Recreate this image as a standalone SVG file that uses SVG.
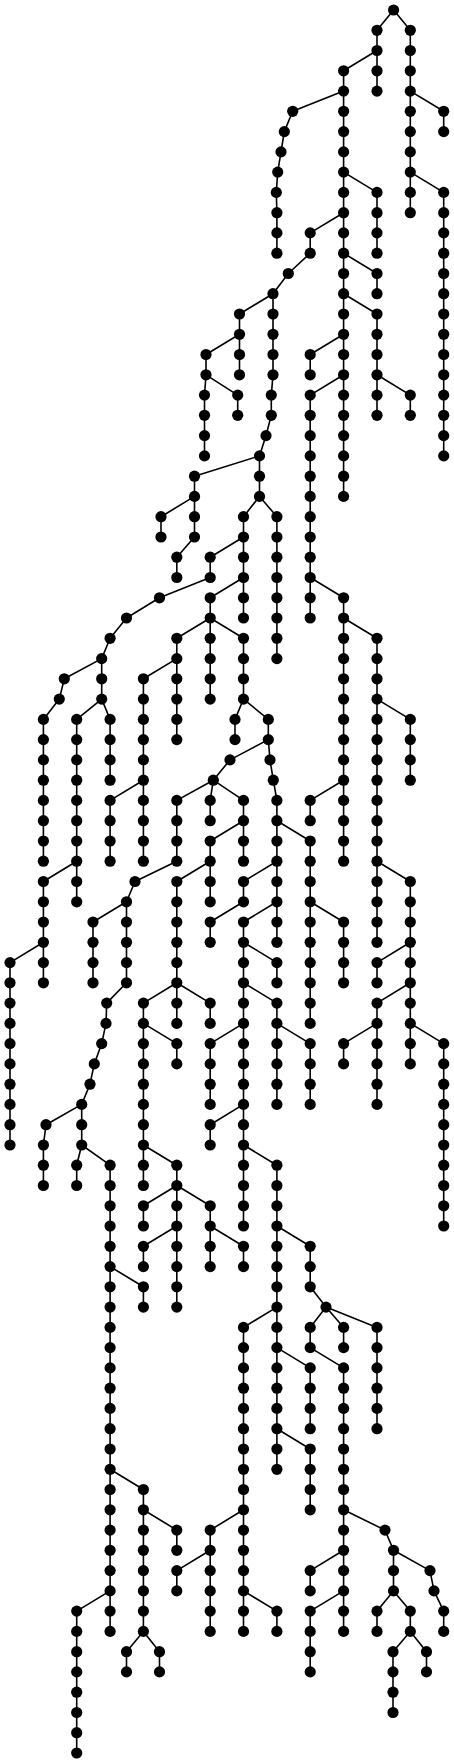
<svg xmlns="http://www.w3.org/2000/svg" width="454" height="1763" viewBox="0 0 454 1763">
<style>
.bg{fill:#fff}
.e{fill:none;stroke:#000;stroke-width:1.6}
circle{r:5.6px;fill:#000}
</style>
<rect class="bg" x="0" y="0" width="454" height="1763"/>
<g id="connectors" class="e"><path d="
M377 30.3V91.1M410.3 30.3V212.7M343.6 70.8V496.4M443.7 111.3V131.6M443.7 192.4V455.9M276.9 212.7V253.2M377 192.4V253.2M377 273.5V293.7M377 314V415.3M310.2 232.9V253.2M310.2 354.5V374.8M310.2 395.1V618M273 293.7V374.8M271.3 395.1V415.3M259.5 455.9V496.4M239.5 314V374.8M206 354.5V374.8M204.5 395.1V455.9M237.7 395.1V415.3M410.3 395.1V415.3M194.5 476.2V537M161 516.7V537M243.5 516.7V618M276.9 516.7V658.6M176.8 557.2V577.5M210.2 557.2V577.5M343.6 597.8V861.2M101.7 658.6V699.1M43.4 719.4V861.2M210.2 597.8V699.1M176.8 638.3V739.6M243.5 638.3V699.1M377 638.3V942.3M143.4 678.8V861.2M76.7 719.4V901.8M110.1 719.4V780.2M235 719.4V739.6M268.3 719.4V739.6M410.3 719.4V780.2M110.1 800.4V861.2M176.8 800.4V861.2M210.2 800.4V820.7M243.5 800.4V861.2M276.9 800.4V942.3M310.2 800.4V820.7M210.2 841V901.8M310.2 841V1023.4M43.4 881.5V982.8M126.5 901.8V982.8M93 922V982.8M176.8 881.5V1023.4M243.5 881.5V901.8M210.2 922V942.3M243.5 922V1226M410.3 881.5V1063.9M343.6 922V982.8M10 962.6V1145M276.9 962.6V982.8M377 962.6V982.8M377 1003.1V1104.4M276.9 1003.1V1104.4M210.2 1003.1V1023.4M143.4 1003.1V1185.5M176.8 1043.6V1063.9M210.2 1043.6V1104.4M310.2 1043.6V1104.4M343.6 1043.6V1063.9M443.7 1043.6V1226M81.7 1104.4V1145M43.4 1145V1185.5M210.2 1124.7V1145M76.7 1165.2V1185.5M110.1 1165.2V1631.4M176.8 1165.2V1307.1M276.9 1165.2V1469.3M143.4 1205.8V1226M210.2 1205.8V1266.6M143.4 1246.3V1266.6M243.5 1246.3V1266.6M310.2 1246.3V1286.8M143.4 1286.8V1307.1M243.5 1327.4V1631.4M310.2 1327.4V1347.6M343.6 1327.4V1347.6M377 1327.4V1428.7M310.2 1367.9V1428.7M343.6 1367.9V1631.4M310.2 1449V1509.8M143.4 1489.5V1631.4M176.8 1530.1V1550.3M210.2 1530.1V1631.4M393.5 1550.3V1590.9M176.8 1570.6V1590.9M310.2 1570.6V1590.9M443.7 1611.1V1631.4M76.7 1611.1V1753M276.9 1611.1V1631.4M310.2 1611.1V1671.9M377 1611.1V1631.4M410.3 1611.1V1631.4M126.5 1651.7V1671.9M159.5 1651.7V1671.9M393 1651.7V1712.5M426.5 1651.7V1671.9
M393.6 10L377 30.3M393.6 10L410.3 30.3M377 50.5L343.6 70.8M343.6 91.1L292.7 111.3M410.3 91.1L443.7 111.3M292.7 111.3L284.3 131.6M284.3 131.6L281 151.9M281 151.9L277.7 172.1M277.7 172.1L276.3 192.4M343.6 172.1L377 192.4M410.3 172.1L443.7 192.4M276.3 192.4L276.9 212.7M343.6 212.7L310.2 232.9M310.2 253.2L288.3 273.5M343.6 253.2L377 273.5M288.3 273.5L273 293.7M273 293.7L239.5 314M343.6 293.7L377 314M239.5 334.3L206 354.5M343.6 334.3L310.2 354.5M206 374.8L204.5 395.1M206 374.8L237.7 395.1M273 374.8L271.3 395.1M343.6 374.8L310.2 395.1M377 374.8L410.3 395.1M271.3 415.3L266 435.6M266 435.6L259.5 455.9M259.5 455.9L194.5 476.2M194.5 496.4L161 516.7M259.5 496.4L243.5 516.7M259.5 496.4L276.9 516.7M194.5 537L176.8 557.2M243.5 537L210.2 557.2M210.2 577.5L159.5 597.8M243.5 577.5L210.2 597.8M310.2 577.5L343.6 597.8M159.5 597.8L126.5 618M126.5 618L110.1 638.3M210.2 618L176.8 638.3M210.2 618L243.5 638.3M343.6 618L377 638.3M110.1 638.3L101.7 658.6M101.7 658.6L64.3 678.8M176.8 658.6L143.4 678.8M64.3 678.8L59.3 699.1M59.3 699.1L43.4 719.4M101.7 699.1L76.7 719.4M101.7 699.1L110.1 719.4M243.5 699.1L235 719.4M243.5 699.1L268.3 719.4M377 699.1L410.3 719.4M268.3 739.6L230 759.9M268.3 739.6L270 759.9M230 759.9L213.3 780.2M270 759.9L273.3 780.2M143.4 780.2L110.1 800.4M213.3 780.2L176.8 800.4M213.3 780.2L210.2 800.4M213.3 780.2L243.5 800.4M273.3 780.2L276.9 800.4M343.6 780.2L310.2 800.4M243.5 820.7L210.2 841M276.9 820.7L310.2 841M76.7 861.2L43.4 881.5M176.8 861.2L135 881.5M210.2 861.2L176.8 881.5M276.9 861.2L243.5 881.5M377 861.2L410.3 881.5M135 881.5L126.5 901.8M126.5 901.8L93 922M243.5 901.8L210.2 922M276.9 901.8L243.5 922M310.2 901.8L343.6 922M43.4 942.3L10 962.6M243.5 942.3L276.9 962.6M410.3 942.3L377 962.6M126.5 982.8L106.7 1003.1M176.8 982.8L143.4 1003.1M176.8 982.8L210.2 1003.1M243.5 982.8L276.9 1003.1M410.3 982.8L377 1003.1M106.7 1003.1L106 1023.4M106 1023.4L101.7 1043.6M143.4 1023.4L176.8 1043.6M243.5 1023.4L210.2 1043.6M276.9 1023.4L310.2 1043.6M377 1023.4L343.6 1043.6M410.3 1023.4L443.7 1043.6M101.7 1043.6L94.3 1063.9M94.3 1063.9L90 1084.2M90 1084.2L81.7 1104.4M81.7 1104.4L46 1124.7M243.5 1104.4L210.2 1124.7M46 1124.7L43.4 1145M81.7 1145L76.7 1165.2M81.7 1145L110.1 1165.2M143.4 1145L176.8 1165.2M243.5 1145L276.9 1165.2M176.8 1185.5L143.4 1205.8M176.8 1185.5L210.2 1205.8M176.8 1226L143.4 1246.3M210.2 1226L243.5 1246.3M276.9 1226L310.2 1246.3M110.1 1266.6L143.4 1286.8M310.2 1286.8L326 1307.1M276.9 1307.1L243.5 1327.4M326 1307.1L310.2 1327.4M326 1307.1L343.6 1327.4M326 1307.1L377 1327.4M276.9 1347.6L310.2 1367.9M310.2 1347.6L343.6 1367.9M276.9 1428.7L310.2 1449M110.1 1469.3L143.4 1489.5M143.4 1509.8L176.8 1530.1M243.5 1509.8L210.2 1530.1M343.6 1509.8L385 1530.1M385 1530.1L393.5 1550.3M210.2 1550.3L176.8 1570.6M343.6 1550.3L310.2 1570.6M393.5 1550.3L430 1570.6M430 1570.6L434 1590.9M110.1 1590.9L76.7 1611.1M243.5 1590.9L276.9 1611.1M343.6 1590.9L310.2 1611.1M393.5 1590.9L377 1611.1M393.5 1590.9L410.3 1611.1M434 1590.9L443.7 1611.1M143.4 1631.4L126.5 1651.7M143.4 1631.4L159.5 1651.7M410.3 1631.4L393 1651.7M410.3 1631.4L426.5 1651.7"/></g>
<g id="nodes">
<g id="n0-1"><circle cx="393.6" cy="10"/></g>
<g id="n1-1"><circle cx="377" cy="30.3"/></g><g id="n1-2"><circle cx="410.3" cy="30.3"/></g>
<g id="n2-1"><circle cx="377" cy="50.5"/></g><g id="n2-2"><circle cx="410.3" cy="50.5"/></g>
<g id="n3-1"><circle cx="343.6" cy="70.8"/></g><g id="n3-2"><circle cx="377" cy="70.8"/></g><g id="n3-3"><circle cx="410.3" cy="70.8"/></g>
<g id="n4-1"><circle cx="343.6" cy="91.1"/></g><g id="n4-2"><circle cx="377" cy="91.1"/></g><g id="n4-3"><circle cx="410.3" cy="91.1"/></g>
<g id="n5-1"><circle cx="292.7" cy="111.3"/></g><g id="n5-2"><circle cx="343.6" cy="111.3"/></g><g id="n5-3"><circle cx="410.3" cy="111.3"/></g><g id="n5-4"><circle cx="443.7" cy="111.3"/></g>
<g id="n6-1"><circle cx="284.3" cy="131.6"/></g><g id="n6-2"><circle cx="343.6" cy="131.6"/></g><g id="n6-3"><circle cx="410.3" cy="131.6"/></g><g id="n6-4"><circle cx="443.7" cy="131.6"/></g>
<g id="n7-1"><circle cx="281" cy="151.9"/></g><g id="n7-2"><circle cx="343.6" cy="151.9"/></g><g id="n7-3"><circle cx="410.3" cy="151.9"/></g>
<g id="n8-1"><circle cx="277.7" cy="172.1"/></g><g id="n8-2"><circle cx="343.6" cy="172.1"/></g><g id="n8-3"><circle cx="410.3" cy="172.1"/></g>
<g id="n9-1"><circle cx="276.3" cy="192.4"/></g><g id="n9-2"><circle cx="343.6" cy="192.4"/></g><g id="n9-3"><circle cx="377" cy="192.4"/></g><g id="n9-4"><circle cx="410.3" cy="192.4"/></g><g id="n9-5"><circle cx="443.7" cy="192.4"/></g>
<g id="n10-1"><circle cx="276.9" cy="212.7"/></g><g id="n10-2"><circle cx="343.6" cy="212.7"/></g><g id="n10-3"><circle cx="377" cy="212.7"/></g><g id="n10-4"><circle cx="410.3" cy="212.7"/></g><g id="n10-5"><circle cx="443.7" cy="212.7"/></g>
<g id="n11-1"><circle cx="276.9" cy="232.9"/></g><g id="n11-2"><circle cx="310.2" cy="232.9"/></g><g id="n11-3"><circle cx="343.6" cy="232.9"/></g><g id="n11-4"><circle cx="377" cy="232.9"/></g><g id="n11-5"><circle cx="443.7" cy="232.9"/></g>
<g id="n12-1"><circle cx="276.9" cy="253.2"/></g><g id="n12-2"><circle cx="310.2" cy="253.2"/></g><g id="n12-3"><circle cx="343.6" cy="253.2"/></g><g id="n12-4"><circle cx="377" cy="253.2"/></g><g id="n12-5"><circle cx="443.7" cy="253.2"/></g>
<g id="n13-1"><circle cx="288.3" cy="273.5"/></g><g id="n13-2"><circle cx="343.6" cy="273.5"/></g><g id="n13-3"><circle cx="377" cy="273.5"/></g><g id="n13-4"><circle cx="443.7" cy="273.5"/></g>
<g id="n14-1"><circle cx="273" cy="293.7"/></g><g id="n14-2"><circle cx="343.6" cy="293.7"/></g><g id="n14-3"><circle cx="377" cy="293.7"/></g><g id="n14-4"><circle cx="443.7" cy="293.7"/></g>
<g id="n15-1"><circle cx="239.5" cy="314"/></g><g id="n15-2"><circle cx="273" cy="314"/></g><g id="n15-3"><circle cx="343.6" cy="314"/></g><g id="n15-4"><circle cx="377" cy="314"/></g><g id="n15-5"><circle cx="443.7" cy="314"/></g>
<g id="n16-1"><circle cx="239.5" cy="334.3"/></g><g id="n16-2"><circle cx="273" cy="334.3"/></g><g id="n16-3"><circle cx="343.6" cy="334.3"/></g><g id="n16-4"><circle cx="377" cy="334.3"/></g><g id="n16-5"><circle cx="443.7" cy="334.3"/></g>
<g id="n17-1"><circle cx="206" cy="354.5"/></g><g id="n17-2"><circle cx="239.5" cy="354.5"/></g><g id="n17-3"><circle cx="273" cy="354.5"/></g><g id="n17-4"><circle cx="310.2" cy="354.5"/></g><g id="n17-5"><circle cx="343.6" cy="354.5"/></g><g id="n17-6"><circle cx="377" cy="354.5"/></g><g id="n17-7"><circle cx="443.7" cy="354.5"/></g>
<g id="n18-1"><circle cx="206" cy="374.8"/></g><g id="n18-2"><circle cx="239.5" cy="374.8"/></g><g id="n18-3"><circle cx="273" cy="374.8"/></g><g id="n18-4"><circle cx="310.2" cy="374.8"/></g><g id="n18-5"><circle cx="343.6" cy="374.8"/></g><g id="n18-6"><circle cx="377" cy="374.8"/></g><g id="n18-7"><circle cx="443.7" cy="374.8"/></g>
<g id="n19-1"><circle cx="204.5" cy="395.1"/></g><g id="n19-2"><circle cx="237.7" cy="395.1"/></g><g id="n19-3"><circle cx="271.3" cy="395.1"/></g><g id="n19-4"><circle cx="310.2" cy="395.1"/></g><g id="n19-5"><circle cx="343.6" cy="395.1"/></g><g id="n19-6"><circle cx="377" cy="395.1"/></g><g id="n19-7"><circle cx="410.3" cy="395.1"/></g><g id="n19-8"><circle cx="443.7" cy="395.1"/></g>
<g id="n20-1"><circle cx="204.5" cy="415.3"/></g><g id="n20-2"><circle cx="237.7" cy="415.3"/></g><g id="n20-3"><circle cx="271.3" cy="415.3"/></g><g id="n20-4"><circle cx="310.2" cy="415.3"/></g><g id="n20-5"><circle cx="343.6" cy="415.3"/></g><g id="n20-6"><circle cx="377" cy="415.3"/></g><g id="n20-7"><circle cx="410.3" cy="415.3"/></g><g id="n20-8"><circle cx="443.7" cy="415.3"/></g>
<g id="n21-1"><circle cx="204.5" cy="435.6"/></g><g id="n21-2"><circle cx="266" cy="435.6"/></g><g id="n21-3"><circle cx="310.2" cy="435.6"/></g><g id="n21-4"><circle cx="343.6" cy="435.6"/></g><g id="n21-5"><circle cx="443.7" cy="435.6"/></g>
<g id="n22-1"><circle cx="204.5" cy="455.9"/></g><g id="n22-2"><circle cx="259.5" cy="455.9"/></g><g id="n22-3"><circle cx="310.2" cy="455.9"/></g><g id="n22-4"><circle cx="343.6" cy="455.9"/></g><g id="n22-5"><circle cx="443.7" cy="455.9"/></g>
<g id="n23-1"><circle cx="194.5" cy="476.2"/></g><g id="n23-2"><circle cx="259.5" cy="476.2"/></g><g id="n23-3"><circle cx="310.2" cy="476.2"/></g><g id="n23-4"><circle cx="343.6" cy="476.2"/></g>
<g id="n24-1"><circle cx="194.5" cy="496.4"/></g><g id="n24-2"><circle cx="259.5" cy="496.4"/></g><g id="n24-3"><circle cx="310.2" cy="496.4"/></g><g id="n24-4"><circle cx="343.6" cy="496.4"/></g>
<g id="n25-1"><circle cx="161" cy="516.7"/></g><g id="n25-2"><circle cx="194.5" cy="516.7"/></g><g id="n25-3"><circle cx="243.5" cy="516.7"/></g><g id="n25-4"><circle cx="276.9" cy="516.7"/></g><g id="n25-5"><circle cx="310.2" cy="516.7"/></g>
<g id="n26-1"><circle cx="161" cy="537"/></g><g id="n26-2"><circle cx="194.5" cy="537"/></g><g id="n26-3"><circle cx="243.5" cy="537"/></g><g id="n26-4"><circle cx="276.9" cy="537"/></g><g id="n26-5"><circle cx="310.2" cy="537"/></g>
<g id="n27-1"><circle cx="176.8" cy="557.2"/></g><g id="n27-2"><circle cx="210.2" cy="557.2"/></g><g id="n27-3"><circle cx="243.5" cy="557.2"/></g><g id="n27-4"><circle cx="276.9" cy="557.2"/></g><g id="n27-5"><circle cx="310.2" cy="557.2"/></g>
<g id="n28-1"><circle cx="176.8" cy="577.5"/></g><g id="n28-2"><circle cx="210.2" cy="577.5"/></g><g id="n28-3"><circle cx="243.5" cy="577.5"/></g><g id="n28-4"><circle cx="276.9" cy="577.5"/></g><g id="n28-5"><circle cx="310.2" cy="577.5"/></g>
<g id="n29-1"><circle cx="159.5" cy="597.8"/></g><g id="n29-2"><circle cx="210.2" cy="597.8"/></g><g id="n29-3"><circle cx="243.5" cy="597.8"/></g><g id="n29-4"><circle cx="276.9" cy="597.8"/></g><g id="n29-5"><circle cx="310.2" cy="597.8"/></g><g id="n29-6"><circle cx="343.6" cy="597.8"/></g>
<g id="n30-1"><circle cx="126.5" cy="618"/></g><g id="n30-2"><circle cx="210.2" cy="618"/></g><g id="n30-3"><circle cx="243.5" cy="618"/></g><g id="n30-4"><circle cx="276.9" cy="618"/></g><g id="n30-5"><circle cx="310.2" cy="618"/></g><g id="n30-6"><circle cx="343.6" cy="618"/></g>
<g id="n31-1"><circle cx="110.1" cy="638.3"/></g><g id="n31-2"><circle cx="176.8" cy="638.3"/></g><g id="n31-3"><circle cx="210.2" cy="638.3"/></g><g id="n31-4"><circle cx="243.5" cy="638.3"/></g><g id="n31-5"><circle cx="276.9" cy="638.3"/></g><g id="n31-6"><circle cx="343.6" cy="638.3"/></g><g id="n31-7"><circle cx="377" cy="638.3"/></g>
<g id="n32-1"><circle cx="101.7" cy="658.6"/></g><g id="n32-2"><circle cx="176.8" cy="658.6"/></g><g id="n32-3"><circle cx="210.2" cy="658.6"/></g><g id="n32-4"><circle cx="243.5" cy="658.6"/></g><g id="n32-5"><circle cx="276.9" cy="658.6"/></g><g id="n32-6"><circle cx="343.6" cy="658.6"/></g><g id="n32-7"><circle cx="377" cy="658.6"/></g>
<g id="n33-1"><circle cx="64.3" cy="678.8"/></g><g id="n33-2"><circle cx="101.7" cy="678.8"/></g><g id="n33-3"><circle cx="143.4" cy="678.8"/></g><g id="n33-4"><circle cx="176.8" cy="678.8"/></g><g id="n33-5"><circle cx="210.2" cy="678.8"/></g><g id="n33-6"><circle cx="243.5" cy="678.8"/></g><g id="n33-7"><circle cx="343.6" cy="678.8"/></g><g id="n33-8"><circle cx="377" cy="678.8"/></g>
<g id="n34-1"><circle cx="59.3" cy="699.1"/></g><g id="n34-2"><circle cx="101.7" cy="699.1"/></g><g id="n34-3"><circle cx="143.4" cy="699.1"/></g><g id="n34-4"><circle cx="176.8" cy="699.1"/></g><g id="n34-5"><circle cx="210.2" cy="699.1"/></g><g id="n34-6"><circle cx="243.5" cy="699.1"/></g><g id="n34-7"><circle cx="343.6" cy="699.1"/></g><g id="n34-8"><circle cx="377" cy="699.1"/></g>
<g id="n35-1"><circle cx="43.4" cy="719.4"/></g><g id="n35-2"><circle cx="76.7" cy="719.4"/></g><g id="n35-3"><circle cx="110.1" cy="719.4"/></g><g id="n35-4"><circle cx="143.4" cy="719.4"/></g><g id="n35-5"><circle cx="176.8" cy="719.4"/></g><g id="n35-6"><circle cx="235" cy="719.4"/></g><g id="n35-7"><circle cx="268.3" cy="719.4"/></g><g id="n35-8"><circle cx="343.6" cy="719.4"/></g><g id="n35-9"><circle cx="377" cy="719.4"/></g><g id="n35-10"><circle cx="410.3" cy="719.4"/></g>
<g id="n36-1"><circle cx="43.4" cy="739.6"/></g><g id="n36-2"><circle cx="76.7" cy="739.6"/></g><g id="n36-3"><circle cx="110.1" cy="739.6"/></g><g id="n36-4"><circle cx="143.4" cy="739.6"/></g><g id="n36-5"><circle cx="176.8" cy="739.6"/></g><g id="n36-6"><circle cx="235" cy="739.6"/></g><g id="n36-7"><circle cx="268.3" cy="739.6"/></g><g id="n36-8"><circle cx="343.6" cy="739.6"/></g><g id="n36-9"><circle cx="377" cy="739.6"/></g><g id="n36-10"><circle cx="410.3" cy="739.6"/></g>
<g id="n37-1"><circle cx="43.4" cy="759.9"/></g><g id="n37-2"><circle cx="76.7" cy="759.9"/></g><g id="n37-3"><circle cx="110.1" cy="759.9"/></g><g id="n37-4"><circle cx="143.4" cy="759.9"/></g><g id="n37-5"><circle cx="230" cy="759.9"/></g><g id="n37-6"><circle cx="270" cy="759.9"/></g><g id="n37-7"><circle cx="343.6" cy="759.9"/></g><g id="n37-8"><circle cx="377" cy="759.9"/></g><g id="n37-9"><circle cx="410.3" cy="759.9"/></g>
<g id="n38-1"><circle cx="43.4" cy="780.2"/></g><g id="n38-2"><circle cx="76.7" cy="780.2"/></g><g id="n38-3"><circle cx="110.1" cy="780.2"/></g><g id="n38-4"><circle cx="143.4" cy="780.2"/></g><g id="n38-5"><circle cx="213.3" cy="780.2"/></g><g id="n38-6"><circle cx="273.3" cy="780.2"/></g><g id="n38-7"><circle cx="343.6" cy="780.2"/></g><g id="n38-8"><circle cx="377" cy="780.2"/></g><g id="n38-9"><circle cx="410.3" cy="780.2"/></g>
<g id="n39-1"><circle cx="43.4" cy="800.4"/></g><g id="n39-2"><circle cx="76.7" cy="800.4"/></g><g id="n39-3"><circle cx="110.1" cy="800.4"/></g><g id="n39-4"><circle cx="143.4" cy="800.4"/></g><g id="n39-5"><circle cx="176.8" cy="800.4"/></g><g id="n39-6"><circle cx="210.2" cy="800.4"/></g><g id="n39-7"><circle cx="243.5" cy="800.4"/></g><g id="n39-8"><circle cx="276.9" cy="800.4"/></g><g id="n39-9"><circle cx="310.2" cy="800.4"/></g><g id="n39-10"><circle cx="343.6" cy="800.4"/></g><g id="n39-11"><circle cx="377" cy="800.4"/></g>
<g id="n40-1"><circle cx="43.4" cy="820.7"/></g><g id="n40-2"><circle cx="76.7" cy="820.7"/></g><g id="n40-3"><circle cx="110.1" cy="820.7"/></g><g id="n40-4"><circle cx="143.4" cy="820.7"/></g><g id="n40-5"><circle cx="176.8" cy="820.7"/></g><g id="n40-6"><circle cx="210.2" cy="820.7"/></g><g id="n40-7"><circle cx="243.5" cy="820.7"/></g><g id="n40-8"><circle cx="276.9" cy="820.7"/></g><g id="n40-9"><circle cx="310.2" cy="820.7"/></g><g id="n40-10"><circle cx="343.6" cy="820.7"/></g><g id="n40-11"><circle cx="377" cy="820.7"/></g>
<g id="n41-1"><circle cx="43.4" cy="841"/></g><g id="n41-2"><circle cx="76.7" cy="841"/></g><g id="n41-3"><circle cx="110.1" cy="841"/></g><g id="n41-4"><circle cx="143.4" cy="841"/></g><g id="n41-5"><circle cx="176.8" cy="841"/></g><g id="n41-6"><circle cx="210.2" cy="841"/></g><g id="n41-7"><circle cx="243.5" cy="841"/></g><g id="n41-8"><circle cx="276.9" cy="841"/></g><g id="n41-9"><circle cx="310.2" cy="841"/></g><g id="n41-10"><circle cx="343.6" cy="841"/></g><g id="n41-11"><circle cx="377" cy="841"/></g>
<g id="n42-1"><circle cx="43.4" cy="861.2"/></g><g id="n42-2"><circle cx="76.7" cy="861.2"/></g><g id="n42-3"><circle cx="110.1" cy="861.2"/></g><g id="n42-4"><circle cx="143.4" cy="861.2"/></g><g id="n42-5"><circle cx="176.8" cy="861.2"/></g><g id="n42-6"><circle cx="210.2" cy="861.2"/></g><g id="n42-7"><circle cx="243.5" cy="861.2"/></g><g id="n42-8"><circle cx="276.9" cy="861.2"/></g><g id="n42-9"><circle cx="310.2" cy="861.2"/></g><g id="n42-10"><circle cx="343.6" cy="861.2"/></g><g id="n42-11"><circle cx="377" cy="861.2"/></g>
<g id="n43-1"><circle cx="43.4" cy="881.5"/></g><g id="n43-2"><circle cx="76.7" cy="881.5"/></g><g id="n43-3"><circle cx="135" cy="881.5"/></g><g id="n43-4"><circle cx="176.8" cy="881.5"/></g><g id="n43-5"><circle cx="210.2" cy="881.5"/></g><g id="n43-6"><circle cx="243.5" cy="881.5"/></g><g id="n43-7"><circle cx="276.9" cy="881.5"/></g><g id="n43-8"><circle cx="310.2" cy="881.5"/></g><g id="n43-9"><circle cx="377" cy="881.5"/></g><g id="n43-10"><circle cx="410.3" cy="881.5"/></g>
<g id="n44-1"><circle cx="43.4" cy="901.8"/></g><g id="n44-2"><circle cx="76.7" cy="901.8"/></g><g id="n44-3"><circle cx="126.5" cy="901.8"/></g><g id="n44-4"><circle cx="176.8" cy="901.8"/></g><g id="n44-5"><circle cx="210.2" cy="901.8"/></g><g id="n44-6"><circle cx="243.5" cy="901.8"/></g><g id="n44-7"><circle cx="276.9" cy="901.8"/></g><g id="n44-8"><circle cx="310.2" cy="901.8"/></g><g id="n44-9"><circle cx="377" cy="901.8"/></g><g id="n44-10"><circle cx="410.3" cy="901.8"/></g>
<g id="n45-1"><circle cx="43.4" cy="922"/></g><g id="n45-2"><circle cx="93" cy="922"/></g><g id="n45-3"><circle cx="126.5" cy="922"/></g><g id="n45-4"><circle cx="176.8" cy="922"/></g><g id="n45-5"><circle cx="210.2" cy="922"/></g><g id="n45-6"><circle cx="243.5" cy="922"/></g><g id="n45-7"><circle cx="276.9" cy="922"/></g><g id="n45-8"><circle cx="310.2" cy="922"/></g><g id="n45-9"><circle cx="343.6" cy="922"/></g><g id="n45-10"><circle cx="377" cy="922"/></g><g id="n45-11"><circle cx="410.3" cy="922"/></g>
<g id="n46-1"><circle cx="43.4" cy="942.3"/></g><g id="n46-2"><circle cx="93" cy="942.3"/></g><g id="n46-3"><circle cx="126.5" cy="942.3"/></g><g id="n46-4"><circle cx="176.8" cy="942.3"/></g><g id="n46-5"><circle cx="210.2" cy="942.3"/></g><g id="n46-6"><circle cx="243.5" cy="942.3"/></g><g id="n46-7"><circle cx="276.9" cy="942.3"/></g><g id="n46-8"><circle cx="310.2" cy="942.3"/></g><g id="n46-9"><circle cx="343.6" cy="942.3"/></g><g id="n46-10"><circle cx="377" cy="942.3"/></g><g id="n46-11"><circle cx="410.3" cy="942.3"/></g>
<g id="n47-1"><circle cx="10" cy="962.6"/></g><g id="n47-2"><circle cx="43.4" cy="962.6"/></g><g id="n47-3"><circle cx="93" cy="962.6"/></g><g id="n47-4"><circle cx="126.5" cy="962.6"/></g><g id="n47-5"><circle cx="176.8" cy="962.6"/></g><g id="n47-6"><circle cx="243.5" cy="962.6"/></g><g id="n47-7"><circle cx="276.9" cy="962.6"/></g><g id="n47-8"><circle cx="310.2" cy="962.6"/></g><g id="n47-9"><circle cx="343.6" cy="962.6"/></g><g id="n47-10"><circle cx="377" cy="962.6"/></g><g id="n47-11"><circle cx="410.3" cy="962.6"/></g>
<g id="n48-1"><circle cx="10" cy="982.8"/></g><g id="n48-2"><circle cx="43.4" cy="982.8"/></g><g id="n48-3"><circle cx="93" cy="982.8"/></g><g id="n48-4"><circle cx="126.5" cy="982.8"/></g><g id="n48-5"><circle cx="176.8" cy="982.8"/></g><g id="n48-6"><circle cx="243.5" cy="982.8"/></g><g id="n48-7"><circle cx="276.9" cy="982.8"/></g><g id="n48-8"><circle cx="310.2" cy="982.8"/></g><g id="n48-9"><circle cx="343.6" cy="982.8"/></g><g id="n48-10"><circle cx="377" cy="982.8"/></g><g id="n48-11"><circle cx="410.3" cy="982.8"/></g>
<g id="n49-1"><circle cx="10" cy="1003.1"/></g><g id="n49-2"><circle cx="106.7" cy="1003.1"/></g><g id="n49-3"><circle cx="143.4" cy="1003.1"/></g><g id="n49-4"><circle cx="176.8" cy="1003.1"/></g><g id="n49-5"><circle cx="210.2" cy="1003.1"/></g><g id="n49-6"><circle cx="243.5" cy="1003.1"/></g><g id="n49-7"><circle cx="276.9" cy="1003.1"/></g><g id="n49-8"><circle cx="310.2" cy="1003.1"/></g><g id="n49-9"><circle cx="377" cy="1003.1"/></g><g id="n49-10"><circle cx="410.3" cy="1003.1"/></g>
<g id="n50-1"><circle cx="10" cy="1023.4"/></g><g id="n50-2"><circle cx="106" cy="1023.4"/></g><g id="n50-3"><circle cx="143.4" cy="1023.4"/></g><g id="n50-4"><circle cx="176.8" cy="1023.4"/></g><g id="n50-5"><circle cx="210.2" cy="1023.4"/></g><g id="n50-6"><circle cx="243.5" cy="1023.4"/></g><g id="n50-7"><circle cx="276.9" cy="1023.4"/></g><g id="n50-8"><circle cx="310.2" cy="1023.4"/></g><g id="n50-9"><circle cx="377" cy="1023.4"/></g><g id="n50-10"><circle cx="410.3" cy="1023.4"/></g>
<g id="n51-1"><circle cx="10" cy="1043.6"/></g><g id="n51-2"><circle cx="101.7" cy="1043.6"/></g><g id="n51-3"><circle cx="143.4" cy="1043.6"/></g><g id="n51-4"><circle cx="176.8" cy="1043.6"/></g><g id="n51-5"><circle cx="210.2" cy="1043.6"/></g><g id="n51-6"><circle cx="243.5" cy="1043.6"/></g><g id="n51-7"><circle cx="276.9" cy="1043.6"/></g><g id="n51-8"><circle cx="310.2" cy="1043.6"/></g><g id="n51-9"><circle cx="343.6" cy="1043.6"/></g><g id="n51-10"><circle cx="377" cy="1043.6"/></g><g id="n51-11"><circle cx="410.3" cy="1043.6"/></g><g id="n51-12"><circle cx="443.7" cy="1043.6"/></g>
<g id="n52-1"><circle cx="10" cy="1063.9"/></g><g id="n52-2"><circle cx="94.3" cy="1063.9"/></g><g id="n52-3"><circle cx="143.4" cy="1063.9"/></g><g id="n52-4"><circle cx="176.8" cy="1063.9"/></g><g id="n52-5"><circle cx="210.2" cy="1063.9"/></g><g id="n52-6"><circle cx="243.5" cy="1063.9"/></g><g id="n52-7"><circle cx="276.9" cy="1063.9"/></g><g id="n52-8"><circle cx="310.2" cy="1063.9"/></g><g id="n52-9"><circle cx="343.6" cy="1063.9"/></g><g id="n52-10"><circle cx="377" cy="1063.9"/></g><g id="n52-11"><circle cx="410.3" cy="1063.9"/></g><g id="n52-12"><circle cx="443.7" cy="1063.9"/></g>
<g id="n53-1"><circle cx="10" cy="1084.2"/></g><g id="n53-2"><circle cx="90" cy="1084.2"/></g><g id="n53-3"><circle cx="143.4" cy="1084.2"/></g><g id="n53-4"><circle cx="210.2" cy="1084.2"/></g><g id="n53-5"><circle cx="243.5" cy="1084.2"/></g><g id="n53-6"><circle cx="276.9" cy="1084.2"/></g><g id="n53-7"><circle cx="310.2" cy="1084.2"/></g><g id="n53-8"><circle cx="377" cy="1084.2"/></g><g id="n53-9"><circle cx="443.7" cy="1084.2"/></g>
<g id="n54-1"><circle cx="10" cy="1104.4"/></g><g id="n54-2"><circle cx="81.7" cy="1104.4"/></g><g id="n54-3"><circle cx="143.4" cy="1104.4"/></g><g id="n54-4"><circle cx="210.2" cy="1104.4"/></g><g id="n54-5"><circle cx="243.5" cy="1104.4"/></g><g id="n54-6"><circle cx="276.9" cy="1104.4"/></g><g id="n54-7"><circle cx="310.2" cy="1104.4"/></g><g id="n54-8"><circle cx="377" cy="1104.4"/></g><g id="n54-9"><circle cx="443.7" cy="1104.4"/></g>
<g id="n55-1"><circle cx="10" cy="1124.7"/></g><g id="n55-2"><circle cx="46" cy="1124.7"/></g><g id="n55-3"><circle cx="81.7" cy="1124.7"/></g><g id="n55-4"><circle cx="143.4" cy="1124.7"/></g><g id="n55-5"><circle cx="210.2" cy="1124.7"/></g><g id="n55-6"><circle cx="243.5" cy="1124.7"/></g><g id="n55-7"><circle cx="443.7" cy="1124.7"/></g>
<g id="n56-1"><circle cx="10" cy="1145"/></g><g id="n56-2"><circle cx="43.4" cy="1145"/></g><g id="n56-3"><circle cx="81.7" cy="1145"/></g><g id="n56-4"><circle cx="143.4" cy="1145"/></g><g id="n56-5"><circle cx="210.2" cy="1145"/></g><g id="n56-6"><circle cx="243.5" cy="1145"/></g><g id="n56-7"><circle cx="443.7" cy="1145"/></g>
<g id="n57-1"><circle cx="43.4" cy="1165.2"/></g><g id="n57-2"><circle cx="76.7" cy="1165.2"/></g><g id="n57-3"><circle cx="110.1" cy="1165.2"/></g><g id="n57-4"><circle cx="143.4" cy="1165.2"/></g><g id="n57-5"><circle cx="176.8" cy="1165.2"/></g><g id="n57-6"><circle cx="243.5" cy="1165.2"/></g><g id="n57-7"><circle cx="276.9" cy="1165.2"/></g><g id="n57-8"><circle cx="443.7" cy="1165.2"/></g>
<g id="n58-1"><circle cx="43.4" cy="1185.5"/></g><g id="n58-2"><circle cx="76.7" cy="1185.5"/></g><g id="n58-3"><circle cx="110.1" cy="1185.5"/></g><g id="n58-4"><circle cx="143.4" cy="1185.5"/></g><g id="n58-5"><circle cx="176.8" cy="1185.5"/></g><g id="n58-6"><circle cx="243.5" cy="1185.5"/></g><g id="n58-7"><circle cx="276.9" cy="1185.5"/></g><g id="n58-8"><circle cx="443.7" cy="1185.5"/></g>
<g id="n59-1"><circle cx="110.1" cy="1205.8"/></g><g id="n59-2"><circle cx="143.4" cy="1205.8"/></g><g id="n59-3"><circle cx="176.8" cy="1205.8"/></g><g id="n59-4"><circle cx="210.2" cy="1205.8"/></g><g id="n59-5"><circle cx="243.5" cy="1205.8"/></g><g id="n59-6"><circle cx="276.9" cy="1205.8"/></g><g id="n59-7"><circle cx="443.7" cy="1205.8"/></g>
<g id="n60-1"><circle cx="110.1" cy="1226"/></g><g id="n60-2"><circle cx="143.4" cy="1226"/></g><g id="n60-3"><circle cx="176.8" cy="1226"/></g><g id="n60-4"><circle cx="210.2" cy="1226"/></g><g id="n60-5"><circle cx="243.5" cy="1226"/></g><g id="n60-6"><circle cx="276.9" cy="1226"/></g><g id="n60-7"><circle cx="443.7" cy="1226"/></g>
<g id="n61-1"><circle cx="110.1" cy="1246.3"/></g><g id="n61-2"><circle cx="143.4" cy="1246.3"/></g><g id="n61-3"><circle cx="176.8" cy="1246.3"/></g><g id="n61-4"><circle cx="210.2" cy="1246.3"/></g><g id="n61-5"><circle cx="243.5" cy="1246.3"/></g><g id="n61-6"><circle cx="276.9" cy="1246.3"/></g><g id="n61-7"><circle cx="310.2" cy="1246.3"/></g>
<g id="n62-1"><circle cx="110.1" cy="1266.6"/></g><g id="n62-2"><circle cx="143.4" cy="1266.6"/></g><g id="n62-3"><circle cx="176.8" cy="1266.6"/></g><g id="n62-4"><circle cx="210.2" cy="1266.6"/></g><g id="n62-5"><circle cx="243.5" cy="1266.6"/></g><g id="n62-6"><circle cx="276.9" cy="1266.6"/></g><g id="n62-7"><circle cx="310.2" cy="1266.6"/></g>
<g id="n63-1"><circle cx="110.1" cy="1286.8"/></g><g id="n63-2"><circle cx="143.4" cy="1286.8"/></g><g id="n63-3"><circle cx="176.8" cy="1286.8"/></g><g id="n63-4"><circle cx="276.9" cy="1286.8"/></g><g id="n63-5"><circle cx="310.2" cy="1286.8"/></g>
<g id="n64-1"><circle cx="110.1" cy="1307.1"/></g><g id="n64-2"><circle cx="143.4" cy="1307.1"/></g><g id="n64-3"><circle cx="176.8" cy="1307.1"/></g><g id="n64-4"><circle cx="276.9" cy="1307.1"/></g><g id="n64-5"><circle cx="326" cy="1307.1"/></g>
<g id="n65-1"><circle cx="110.1" cy="1327.4"/></g><g id="n65-2"><circle cx="243.5" cy="1327.4"/></g><g id="n65-3"><circle cx="276.9" cy="1327.4"/></g><g id="n65-4"><circle cx="310.2" cy="1327.4"/></g><g id="n65-5"><circle cx="343.6" cy="1327.4"/></g><g id="n65-6"><circle cx="377" cy="1327.4"/></g>
<g id="n66-1"><circle cx="110.1" cy="1347.6"/></g><g id="n66-2"><circle cx="243.5" cy="1347.6"/></g><g id="n66-3"><circle cx="276.9" cy="1347.6"/></g><g id="n66-4"><circle cx="310.2" cy="1347.6"/></g><g id="n66-5"><circle cx="343.6" cy="1347.6"/></g><g id="n66-6"><circle cx="377" cy="1347.6"/></g>
<g id="n67-1"><circle cx="110.1" cy="1367.9"/></g><g id="n67-2"><circle cx="243.5" cy="1367.9"/></g><g id="n67-3"><circle cx="276.9" cy="1367.9"/></g><g id="n67-4"><circle cx="310.2" cy="1367.9"/></g><g id="n67-5"><circle cx="343.6" cy="1367.9"/></g><g id="n67-6"><circle cx="377" cy="1367.9"/></g>
<g id="n68-1"><circle cx="110.1" cy="1388.2"/></g><g id="n68-2"><circle cx="243.5" cy="1388.2"/></g><g id="n68-3"><circle cx="276.9" cy="1388.2"/></g><g id="n68-4"><circle cx="310.2" cy="1388.2"/></g><g id="n68-5"><circle cx="343.6" cy="1388.2"/></g><g id="n68-6"><circle cx="377" cy="1388.2"/></g>
<g id="n69-1"><circle cx="110.1" cy="1408.4"/></g><g id="n69-2"><circle cx="243.5" cy="1408.4"/></g><g id="n69-3"><circle cx="276.9" cy="1408.4"/></g><g id="n69-4"><circle cx="310.2" cy="1408.4"/></g><g id="n69-5"><circle cx="343.6" cy="1408.4"/></g><g id="n69-6"><circle cx="377" cy="1408.4"/></g>
<g id="n70-1"><circle cx="110.1" cy="1428.7"/></g><g id="n70-2"><circle cx="243.5" cy="1428.7"/></g><g id="n70-3"><circle cx="276.9" cy="1428.7"/></g><g id="n70-4"><circle cx="310.2" cy="1428.7"/></g><g id="n70-5"><circle cx="343.6" cy="1428.7"/></g><g id="n70-6"><circle cx="377" cy="1428.7"/></g>
<g id="n71-1"><circle cx="110.1" cy="1449"/></g><g id="n71-2"><circle cx="243.5" cy="1449"/></g><g id="n71-3"><circle cx="276.9" cy="1449"/></g><g id="n71-4"><circle cx="310.2" cy="1449"/></g><g id="n71-5"><circle cx="343.6" cy="1449"/></g>
<g id="n72-1"><circle cx="110.1" cy="1469.3"/></g><g id="n72-2"><circle cx="243.5" cy="1469.3"/></g><g id="n72-3"><circle cx="276.9" cy="1469.3"/></g><g id="n72-4"><circle cx="310.2" cy="1469.3"/></g><g id="n72-5"><circle cx="343.6" cy="1469.3"/></g>
<g id="n73-1"><circle cx="110.1" cy="1489.5"/></g><g id="n73-2"><circle cx="143.4" cy="1489.5"/></g><g id="n73-3"><circle cx="243.5" cy="1489.5"/></g><g id="n73-4"><circle cx="310.2" cy="1489.5"/></g><g id="n73-5"><circle cx="343.6" cy="1489.5"/></g>
<g id="n74-1"><circle cx="110.1" cy="1509.8"/></g><g id="n74-2"><circle cx="143.4" cy="1509.8"/></g><g id="n74-3"><circle cx="243.5" cy="1509.8"/></g><g id="n74-4"><circle cx="310.2" cy="1509.8"/></g><g id="n74-5"><circle cx="343.6" cy="1509.8"/></g>
<g id="n75-1"><circle cx="110.1" cy="1530.1"/></g><g id="n75-2"><circle cx="143.4" cy="1530.1"/></g><g id="n75-3"><circle cx="176.8" cy="1530.1"/></g><g id="n75-4"><circle cx="210.2" cy="1530.1"/></g><g id="n75-5"><circle cx="243.5" cy="1530.1"/></g><g id="n75-6"><circle cx="343.6" cy="1530.1"/></g><g id="n75-7"><circle cx="385" cy="1530.1"/></g>
<g id="n76-1"><circle cx="110.1" cy="1550.3"/></g><g id="n76-2"><circle cx="143.4" cy="1550.3"/></g><g id="n76-3"><circle cx="176.8" cy="1550.3"/></g><g id="n76-4"><circle cx="210.2" cy="1550.3"/></g><g id="n76-5"><circle cx="243.5" cy="1550.3"/></g><g id="n76-6"><circle cx="343.6" cy="1550.3"/></g><g id="n76-7"><circle cx="393.5" cy="1550.3"/></g>
<g id="n77-1"><circle cx="110.1" cy="1570.6"/></g><g id="n77-2"><circle cx="143.4" cy="1570.6"/></g><g id="n77-3"><circle cx="176.8" cy="1570.6"/></g><g id="n77-4"><circle cx="210.2" cy="1570.6"/></g><g id="n77-5"><circle cx="243.5" cy="1570.6"/></g><g id="n77-6"><circle cx="310.2" cy="1570.6"/></g><g id="n77-7"><circle cx="343.6" cy="1570.6"/></g><g id="n77-8"><circle cx="393.5" cy="1570.6"/></g><g id="n77-9"><circle cx="430" cy="1570.6"/></g>
<g id="n78-1"><circle cx="110.1" cy="1590.9"/></g><g id="n78-2"><circle cx="143.4" cy="1590.9"/></g><g id="n78-3"><circle cx="176.8" cy="1590.9"/></g><g id="n78-4"><circle cx="210.2" cy="1590.9"/></g><g id="n78-5"><circle cx="243.5" cy="1590.9"/></g><g id="n78-6"><circle cx="310.2" cy="1590.9"/></g><g id="n78-7"><circle cx="343.6" cy="1590.9"/></g><g id="n78-8"><circle cx="393.5" cy="1590.9"/></g><g id="n78-9"><circle cx="434" cy="1590.9"/></g>
<g id="n79-1"><circle cx="76.7" cy="1611.1"/></g><g id="n79-2"><circle cx="110.1" cy="1611.1"/></g><g id="n79-3"><circle cx="143.4" cy="1611.1"/></g><g id="n79-4"><circle cx="210.2" cy="1611.1"/></g><g id="n79-5"><circle cx="243.5" cy="1611.1"/></g><g id="n79-6"><circle cx="276.9" cy="1611.1"/></g><g id="n79-7"><circle cx="310.2" cy="1611.1"/></g><g id="n79-8"><circle cx="343.6" cy="1611.1"/></g><g id="n79-9"><circle cx="377" cy="1611.1"/></g><g id="n79-10"><circle cx="410.3" cy="1611.1"/></g><g id="n79-11"><circle cx="443.7" cy="1611.1"/></g>
<g id="n80-1"><circle cx="76.7" cy="1631.4"/></g><g id="n80-2"><circle cx="110.1" cy="1631.4"/></g><g id="n80-3"><circle cx="143.4" cy="1631.4"/></g><g id="n80-4"><circle cx="210.2" cy="1631.4"/></g><g id="n80-5"><circle cx="243.5" cy="1631.4"/></g><g id="n80-6"><circle cx="276.9" cy="1631.4"/></g><g id="n80-7"><circle cx="310.2" cy="1631.4"/></g><g id="n80-8"><circle cx="343.6" cy="1631.4"/></g><g id="n80-9"><circle cx="377" cy="1631.4"/></g><g id="n80-10"><circle cx="410.3" cy="1631.4"/></g><g id="n80-11"><circle cx="443.7" cy="1631.4"/></g>
<g id="n81-1"><circle cx="76.7" cy="1651.7"/></g><g id="n81-2"><circle cx="126.5" cy="1651.7"/></g><g id="n81-3"><circle cx="159.5" cy="1651.7"/></g><g id="n81-4"><circle cx="310.2" cy="1651.7"/></g><g id="n81-5"><circle cx="393" cy="1651.7"/></g><g id="n81-6"><circle cx="426.5" cy="1651.7"/></g>
<g id="n82-1"><circle cx="76.7" cy="1671.9"/></g><g id="n82-2"><circle cx="126.5" cy="1671.9"/></g><g id="n82-3"><circle cx="159.5" cy="1671.9"/></g><g id="n82-4"><circle cx="310.2" cy="1671.9"/></g><g id="n82-5"><circle cx="393" cy="1671.9"/></g><g id="n82-6"><circle cx="426.5" cy="1671.9"/></g>
<g id="n83-1"><circle cx="76.7" cy="1692.2"/></g><g id="n83-2"><circle cx="393" cy="1692.2"/></g>
<g id="n84-1"><circle cx="76.7" cy="1712.5"/></g><g id="n84-2"><circle cx="393" cy="1712.5"/></g>
<g id="n85-1"><circle cx="76.7" cy="1732.7"/></g>
<g id="n86-1"><circle cx="76.7" cy="1753"/></g>
</g>
</svg>
